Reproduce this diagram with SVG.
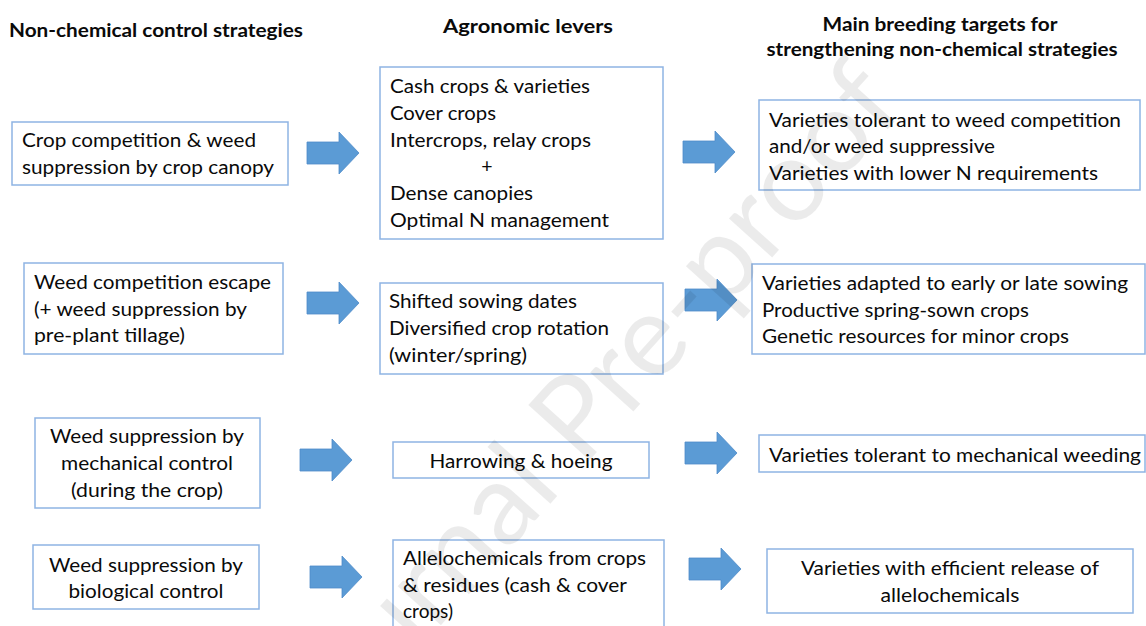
<svg xmlns="http://www.w3.org/2000/svg" width="1146" height="626" viewBox="0 0 1146 626">
<style>
.bg{fill:#fff}
.box{fill:none;stroke:#8eb4e3;stroke-width:1.5}
.t{font-family:Lato,"Open Sans","Liberation Sans",sans-serif;font-size:19.5px;fill:#0a0a0a}
.h{font-family:Lato,"Open Sans","Liberation Sans",sans-serif;font-size:18.5px;font-weight:bold;fill:#0a0a0a}
.m{text-anchor:middle}
.arr{fill:#5b9bd5;stroke:#4f8cc9;stroke-width:0.8}
.wm{font-family:Lato,"Open Sans","Liberation Sans",sans-serif;font-size:115px;fill:#000;fill-opacity:0.08}
</style>
<defs>
<path id="arrow" d="M0,-11 H32 V-21 L52,0 L32,21 V11 H0 Z"/>
</defs>
<rect class="bg" x="0" y="0" width="1146" height="626"/>
<g id="headers">
<text class="h" x="9" y="37" textLength="294" lengthAdjust="spacingAndGlyphs">Non-chemical control strategies</text>
<text class="h" x="443" y="33" textLength="170" lengthAdjust="spacingAndGlyphs">Agronomic levers</text>
<text class="h m" x="940" y="31" textLength="235" lengthAdjust="spacingAndGlyphs">Main breeding targets for</text>
<text class="h m" x="942" y="56" textLength="351" lengthAdjust="spacingAndGlyphs">strengthening non-chemical strategies</text>
</g>
<g id="connectors">
<use href="#arrow" class="arr" x="307" y="153"/>
<use href="#arrow" class="arr" x="683" y="152"/>
<use href="#arrow" class="arr" x="307" y="303"/>
<use href="#arrow" class="arr" x="685" y="300"/>
<use href="#arrow" class="arr" x="300" y="460"/>
<use href="#arrow" class="arr" x="685" y="453"/>
<use href="#arrow" class="arr" x="310" y="577"/>
<use href="#arrow" class="arr" x="689" y="569"/>
</g>
<g id="n1">
<rect class="box" x="12" y="122" width="276" height="63"/>
<text class="t" x="22" y="147" textLength="234" lengthAdjust="spacingAndGlyphs">Crop competition &amp; weed</text>
<text class="t" x="22" y="174" textLength="252" lengthAdjust="spacingAndGlyphs">suppression by crop canopy</text>
</g>
<g id="n2">
<rect class="box" x="380" y="67" width="283" height="172"/>
<text class="t" x="390" y="93" textLength="200" lengthAdjust="spacingAndGlyphs">Cash crops &amp; varieties</text>
<text class="t" x="390" y="120" textLength="106" lengthAdjust="spacingAndGlyphs">Cover crops</text>
<text class="t" x="390" y="147" textLength="201" lengthAdjust="spacingAndGlyphs">Intercrops, relay crops</text>
<text class="t m" x="487" y="173">+</text>
<text class="t" x="390" y="200" textLength="143" lengthAdjust="spacingAndGlyphs">Dense canopies</text>
<text class="t" x="390" y="227" textLength="219" lengthAdjust="spacingAndGlyphs">Optimal N management</text>
</g>
<g id="n3">
<rect class="box" x="759" y="100" width="381" height="90"/>
<text class="t" x="769" y="127" textLength="352" lengthAdjust="spacingAndGlyphs">Varieties tolerant to weed competition</text>
<text class="t" x="769" y="153" textLength="226" lengthAdjust="spacingAndGlyphs">and/or weed suppressive</text>
<text class="t" x="769" y="180" textLength="329" lengthAdjust="spacingAndGlyphs">Varieties with lower N requirements</text>
</g>
<g id="n4">
<rect class="box" x="24" y="263" width="259" height="91"/>
<text class="t" x="34" y="289" textLength="237" lengthAdjust="spacingAndGlyphs">Weed competition escape</text>
<text class="t" x="34" y="316" textLength="213" lengthAdjust="spacingAndGlyphs">(+ weed suppression by</text>
<text class="t" x="34" y="342" textLength="151" lengthAdjust="spacingAndGlyphs">pre-plant tillage)</text>
</g>
<g id="n5">
<rect class="box" x="380" y="283" width="283" height="91"/>
<text class="t" x="389" y="308" textLength="188" lengthAdjust="spacingAndGlyphs">Shifted sowing dates</text>
<text class="t" x="389" y="335" textLength="220" lengthAdjust="spacingAndGlyphs">Diversified crop rotation</text>
<text class="t" x="389" y="362" textLength="138" lengthAdjust="spacingAndGlyphs">(winter/spring)</text>
</g>
<g id="n6">
<rect class="box" x="752" y="264" width="393" height="90"/>
<text class="t" x="762" y="290" textLength="366" lengthAdjust="spacingAndGlyphs">Varieties adapted to early or late sowing</text>
<text class="t" x="762" y="317" textLength="267" lengthAdjust="spacingAndGlyphs">Productive spring-sown crops</text>
<text class="t" x="762" y="343" textLength="307" lengthAdjust="spacingAndGlyphs">Genetic resources for minor crops</text>
</g>
<g id="n7">
<rect class="box" x="35" y="418" width="225" height="90"/>
<text class="t m" x="147" y="443" textLength="194" lengthAdjust="spacingAndGlyphs">Weed suppression by</text>
<text class="t m" x="147" y="470" textLength="172" lengthAdjust="spacingAndGlyphs">mechanical control</text>
<text class="t m" x="147" y="497" textLength="152" lengthAdjust="spacingAndGlyphs">(during the crop)</text>
</g>
<g id="n8">
<rect class="box" x="393" y="442" width="256" height="36"/>
<text class="t m" x="521" y="468" textLength="183" lengthAdjust="spacingAndGlyphs">Harrowing &amp; hoeing</text>
</g>
<g id="n9">
<rect class="box" x="759" y="435" width="386" height="37"/>
<text class="t" x="769" y="462" textLength="372" lengthAdjust="spacingAndGlyphs">Varieties tolerant to mechanical weeding</text>
</g>
<g id="n10">
<rect class="box" x="33" y="545" width="226" height="64"/>
<text class="t m" x="146" y="572" textLength="194" lengthAdjust="spacingAndGlyphs">Weed suppression by</text>
<text class="t m" x="146" y="598" textLength="155" lengthAdjust="spacingAndGlyphs">biological control</text>
</g>
<g id="n11">
<rect class="box" x="393" y="540" width="271" height="100"/>
<text class="t" x="403" y="565" textLength="243" lengthAdjust="spacingAndGlyphs">Allelochemicals from crops</text>
<text class="t" x="403" y="592" textLength="224" lengthAdjust="spacingAndGlyphs">&amp; residues (cash &amp; cover</text>
<text class="t" x="403" y="618" textLength="50" lengthAdjust="spacingAndGlyphs">crops)</text>
</g>
<g id="n12">
<rect class="box" x="767" y="549" width="366" height="64"/>
<text class="t m" x="950" y="575" textLength="298" lengthAdjust="spacingAndGlyphs">Varieties with efficient release of</text>
<text class="t m" x="950" y="602" textLength="139" lengthAdjust="spacingAndGlyphs">allelochemicals</text>
</g>
<g id="watermark">
<text class="wm m" x="590" y="445" transform="rotate(-48 590 415)">Journal Pre-proof</text>
</g>
</svg>
